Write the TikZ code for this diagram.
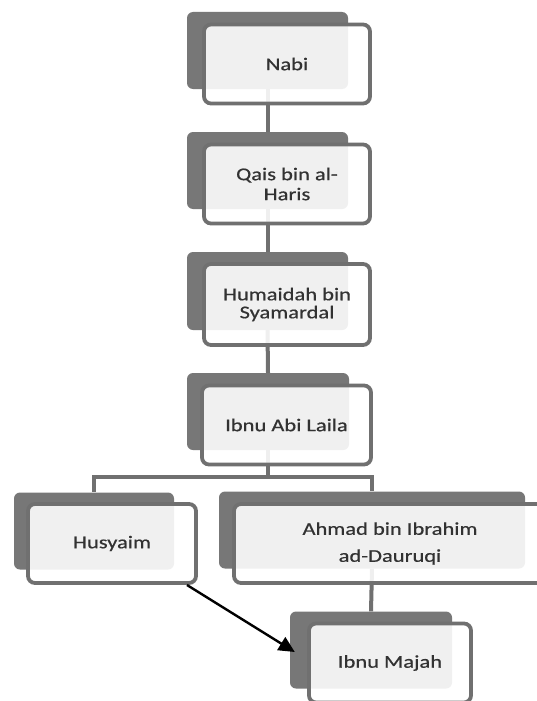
\documentclass[tikz,border=0pt]{standalone}
\usepackage{fontspec}
\setmainfont{Carlito}[FakeStretch=1.25,FakeBold=0.6]
\usetikzlibrary{arrows.meta,calc}
\definecolor{boxgray}{RGB}{119,119,119}
\definecolor{edgegray}{RGB}{112,112,112}
\definecolor{txt}{RGB}{50,50,50}
\tikzset{
 backbox/.style={fill=boxgray, draw=none, rounded corners=6pt, minimum height=77pt, inner sep=0pt},
 frontbox/.style={draw=edgegray, line width=3.8pt, fill=white, fill opacity=0.89, text opacity=1, rounded corners=7pt, minimum height=79pt, inner sep=0pt, align=center, text=txt, font=\fontsize{18}{19}\selectfont},
 conn/.style={draw=edgegray, line width=4pt},
 arr/.style={draw=black, line width=2.4pt, -{Triangle[length=16pt,width=15pt]}}
}
\begin{document}
\begin{tikzpicture}[x=1pt,y=-1pt]
\fill[white] (0,0) rectangle (536,701);
\useasboundingbox (0,0) rectangle (536,701);
% back boxes
\node[backbox, minimum width=161pt] (nabiB) at (267.5,50.5) {};
\node[backbox, minimum width=161pt] (qaisB) at (267.5,170.5) {};
\node[backbox, minimum width=161pt, minimum height=78pt] (humB) at (267.5,291) {};
\node[backbox, minimum width=162pt] (ibnuB) at (268,411.5) {};
\node[backbox, minimum width=160pt] (husB) at (94,531) {};
\node[backbox, minimum width=306pt] (ahmB) at (372,530) {};
\node[backbox, minimum width=162pt] (majB) at (371,650) {};
% connectors (behind front boxes)
\draw[conn] (nabiB.south) -- (qaisB.north);
\draw[conn] (qaisB.south) -- (humB.north);
\draw[conn] (humB.south) -- (ibnuB.north);
\coordinate (split) at (268,477);
\draw[conn] (ibnuB.south) -- (split);
\draw[conn, line cap=rect] (split -| husB.north) -- (split -| ahmB.north);
\draw[conn] (split -| husB.north) -- (husB.north);
\draw[conn] (split -| ahmB.north) -- (ahmB.north);
\draw[conn] (ahmB.south) -- (majB.north);
% front boxes
\node[frontbox, minimum width=166pt] (nabi) at (287,64) {Nabi};
\node[frontbox, minimum width=166pt] (qais) at (287,184) {Qais bin al-\\[1pt]Haris};
\node[frontbox, minimum width=166pt, minimum height=81pt] (hum) at (287,304.5) {Humaidah bin\\[-1pt]Syamardal};
\node[frontbox, minimum width=169pt] (ibnu) at (286.5,425) {Ibnu Abi Laila};
\node[frontbox, minimum width=168pt] (hus) at (112,543.5) {Husyaim};
\node[frontbox, minimum width=312pt] (ahm) at (390,543.5) {Ahmad bin Ibrahim\\[8pt]ad-Dauruqi};
\node[frontbox, minimum width=162pt] (maj) at (390,663) {Ibnu Majah};
% arrow
\coordinate (arrS) at (187,585);
\draw[arr] (arrS) -- ($(majB.west)+(5,2)$);
\end{tikzpicture}
\end{document}
